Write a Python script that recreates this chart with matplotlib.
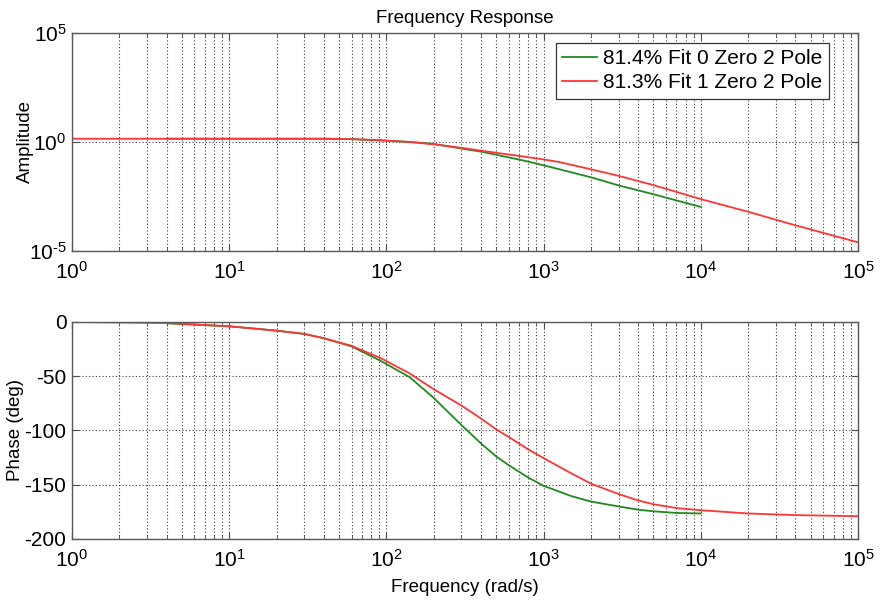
import numpy as np
import matplotlib
matplotlib.use('Agg')
import matplotlib.pyplot as plt
from matplotlib.ticker import LogLocator, NullLocator, NullFormatter, FixedLocator, FuncFormatter

plt.rcParams['font.family'] = ['Liberation Sans', 'DejaVu Sans']
plt.rcParams['mathtext.fontset'] = 'custom'
plt.rcParams['mathtext.rm'] = 'Liberation Sans'
plt.rcParams['mathtext.default'] = 'regular'
plt.rcParams['axes.unicode_minus'] = False

# fitted models: 0 zero / 2 pole (green) and 1 zero / 2 pole (red)
label_0z = '81.4% Fit 0 Zero 2 Pole'
label_1z = '81.3% Fit 1 Zero 2 Pole'

# amplitude responses
amp_freq_0z = [4, 40, 60, 91, 141, 200, 300, 400, 500, 800, 1000, 1260, 2000, 3000, 5000, 10000]
amp_0z = [1.41, 1.41, 1.35, 1.2, 1.0, 0.82, 0.50, 0.36, 0.26, 0.126, 0.085, 0.056,
          0.024, 0.0102, 0.004, 0.00105]
amp_freq_1z = [1, 40, 60, 91, 141, 200, 300, 400, 500, 800, 1000, 1260, 2000, 3000,
               5000, 10000, 20000, 40000, 100000]
amp_1z = [1.41, 1.41, 1.35, 1.2, 1.0, 0.78, 0.54, 0.40, 0.32, 0.20, 0.158, 0.12,
          0.056, 0.028, 0.0105, 0.0024, 6.3e-4, 1.5e-4, 2.5e-5]

# phase responses (deg)
ph_freq_0z = [4, 10, 20, 30, 40, 60, 91, 141, 200, 300, 400, 500, 600, 800, 1000,
              1500, 2000, 3000, 4000, 5000, 7000, 10000]
phase_0z = [-1.2, -4, -8, -11, -15, -22.5, -35.5, -51, -70, -95, -112, -124, -132,
            -143.5, -151, -160.5, -165.5, -170, -173, -174.5, -176, -176.5]
ph_freq_1z = [1, 4, 10, 20, 30, 40, 60, 91, 141, 200, 300, 400, 500, 600, 800, 1000,
              1500, 2000, 3000, 4000, 5000, 7000, 10000, 20000, 40000, 100000]
phase_1z = [0, -1.0, -4, -8, -11, -15, -22, -33, -47.5, -62, -77, -89, -99, -106,
            -117.5, -125.5, -139.5, -149, -158.6, -164.5, -168, -171.5, -173.5, -176.5,
            -178, -179]

amp_ticks = [1e-5, 1e0, 1e5]
phase_ticks = [0, -50, -100, -150, -200]

green = '#1f8a1f'
red = '#ff3535'
grid_kw = dict(color='0.25', linestyle=(0, (1, 2)), linewidth=0.8)


def pow10_label(v, pos):
    e = int(round(np.log10(v)))
    if e < 0:
        return r'$10^{\text{-}%d}$' % (-e)
    return r'$10^{%d}$' % e


fig = plt.figure(figsize=(8.8, 6.0), dpi=100)
ax1 = fig.add_axes([0.0818, 0.5817, 0.8932, 0.3633])
ax2 = fig.add_axes([0.0818, 0.1017, 0.8932, 0.3617])

# amplitude
ax1.loglog(amp_freq_0z, amp_0z, color=green, lw=1.3, label=label_0z)
ax1.loglog(amp_freq_1z, amp_1z, color=red, lw=1.3, label=label_1z)
ax1.set_xlim(1, 1e5)
ax1.set_ylim(1e-5, 1e5)
ax1.yaxis.set_major_locator(FixedLocator(amp_ticks))
ax1.yaxis.set_major_formatter(FuncFormatter(pow10_label))
ax1.yaxis.set_minor_locator(NullLocator())
ax1.set_ylabel('Amplitude', fontsize=13.5)
ax1.yaxis.set_label_coords(-0.048, 0.5)
ax1.set_title('Frequency Response', fontsize=13.5, pad=7)
leg = ax1.legend(loc='upper right', bbox_to_anchor=(0.963, 0.955), fontsize=15,
                 fancybox=False, framealpha=1, edgecolor='0.2', handlelength=1.7,
                 handletextpad=0.3, borderpad=0.3, labelspacing=0.25, borderaxespad=0)
leg.get_frame().set_linewidth(0.9)

# phase
ax2.semilogx(ph_freq_0z, phase_0z, color=green, lw=1.3)
ax2.semilogx(ph_freq_1z, phase_1z, color=red, lw=1.3)
ax2.set_xlim(1, 1e5)
ax2.set_ylim(-200, 0)
ax2.set_yticks(phase_ticks)
ax2.set_ylabel('Phase (deg)', fontsize=13.5)
ax2.yaxis.set_label_coords(-0.061, 0.5)
ax2.set_xlabel('Frequency (rad/s)', fontsize=13.5, labelpad=6)

for ax in (ax1, ax2):
    ax.xaxis.set_major_locator(LogLocator(base=10, numticks=10))
    ax.xaxis.set_major_formatter(FuncFormatter(pow10_label))
    ax.xaxis.set_minor_locator(LogLocator(base=10, subs=np.arange(2, 10), numticks=20))
    ax.xaxis.set_minor_formatter(NullFormatter())
    ax.grid(True, which='major', axis='both', **grid_kw)
    ax.grid(True, which='minor', axis='x', **grid_kw)
    ax.tick_params(which='both', direction='in', top=True, right=True,
                   labelsize=15, color='0.3')
    ax.tick_params(which='major', length=5, pad=4)
    ax.tick_params(which='minor', length=3)
    ax.tick_params(axis='x', which='major', pad=7)
    for s in ax.spines.values():
        s.set_color('0.35')
        s.set_linewidth(1.0)

fig.savefig('out.png', dpi=100)
